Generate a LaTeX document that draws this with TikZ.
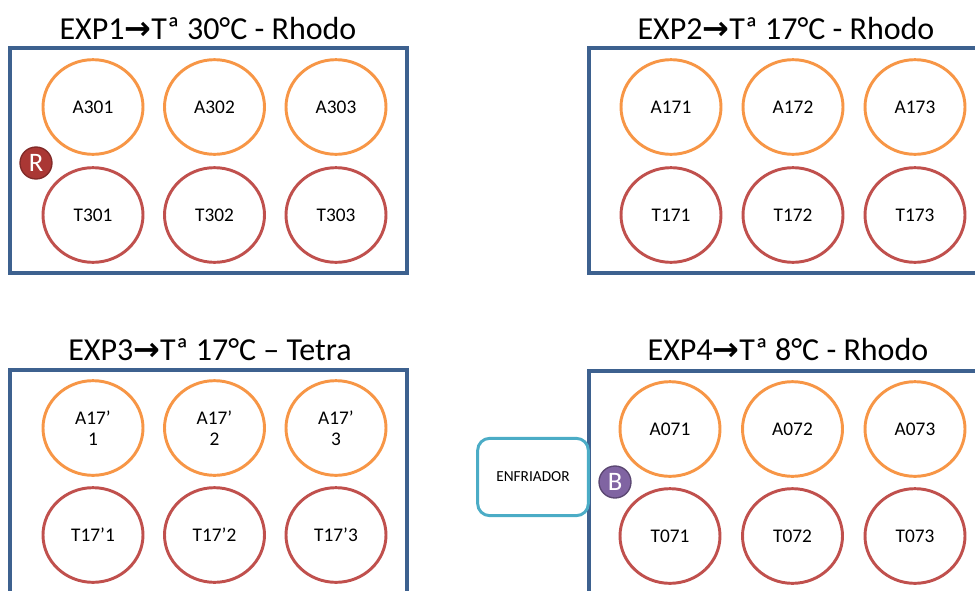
\documentclass[tikz,border=0pt]{standalone}
\usepackage{fontspec}
\setmainfont{Carlito}
\newfontfamily\arrowfont{DejaVu Sans}
\usetikzlibrary{shapes.geometric}
\definecolor{plateblue}{RGB}{61,97,143}
\definecolor{ambar}{RGB}{247,150,70}
\definecolor{tetra}{RGB}{192,80,77}
\definecolor{coolblue}{RGB}{75,172,198}
\definecolor{badgered}{RGB}{170,55,52}
\definecolor{badgepurple}{RGB}{128,100,162}
\newcommand{\toarrow}{{\arrowfont\bfseries\char"2192}}
\tikzset{
  plate/.style={draw=plateblue, line width=2.6pt},
  well/.style={ellipse, draw, line width=2.2pt, fill=white, minimum width=75pt, minimum height=71pt,
    font=\fontsize{14.5}{16}\selectfont, align=center, inner sep=0pt},
  awell/.style={well, draw=ambar},
  twell/.style={well, draw=tetra},
  title/.style={font=\fontsize{24}{28}\selectfont},
  badge/.style={circle, minimum size=24pt, inner sep=0pt, text=white, line width=1pt,
    font=\fontsize{20}{20}\selectfont},
  cooler/.style={draw=coolblue, line width=2.2pt, rounded corners=9pt, minimum width=83pt,
    minimum height=58pt, font=\fontsize{11.5}{13}\selectfont}
}
\begin{document}
\begin{tikzpicture}[x=0.75pt, y=-0.75pt]
  \clip (0,0) rectangle (975,590);
  % Plates
  \draw[plate] (10,48) rectangle (407,273);
  \draw[plate] (589,48) rectangle (1000,273);
  \draw[plate] (10,370) rectangle (407,620);
  \draw[plate] (589,371) rectangle (1000,620);
  % Titles
  \node[title] (exp1) at (208,28) {EXP1\toarrow Tª 30°C - Rhodo};
  \node[title] (exp2) at (786,28) {EXP2\toarrow Tª 17°C - Rhodo};
  \node[title] (exp3) at (210,350) {EXP3\toarrow Tª 17°C – Tetra};
  \node[title] (exp4) at (788,350) {EXP4\toarrow Tª 8°C - Rhodo};
  % Wells
  \foreach \i in {1,2,3}{
    \node[awell] (a30\i) at ({93+121.5*(\i-1)},107) {A30\i};
    \node[twell] (t30\i) at ({93+121.5*(\i-1)},215) {T30\i};
    \node[awell] (a17\i) at ({671+122*(\i-1)},107) {A17\i};
    \node[twell] (t17\i) at ({671+122*(\i-1)},215) {T17\i};
    \node[awell] (a17p\i) at ({93+121.5*(\i-1)},428) {A17’\\\i};
    \node[twell] (t17p\i) at ({93+121.5*(\i-1)},535) {T17’\i};
    \node[awell] (a07\i) at ({670+122.5*(\i-1)},429) {A07\i};
    \node[twell] (t07\i) at ({670+122.5*(\i-1)},536) {T07\i};
  }
  % Badges and cooler
  \node[badge, fill=badgered, draw=badgered!75!black] (rhodo) at (36,163) {R};
  \node[cooler] (enfriador) at (533,477) {ENFRIADOR};
  \node[badge, fill=badgepurple, draw=badgepurple!70!black] (blue) at (615,482) {B};
\end{tikzpicture}
\end{document}
